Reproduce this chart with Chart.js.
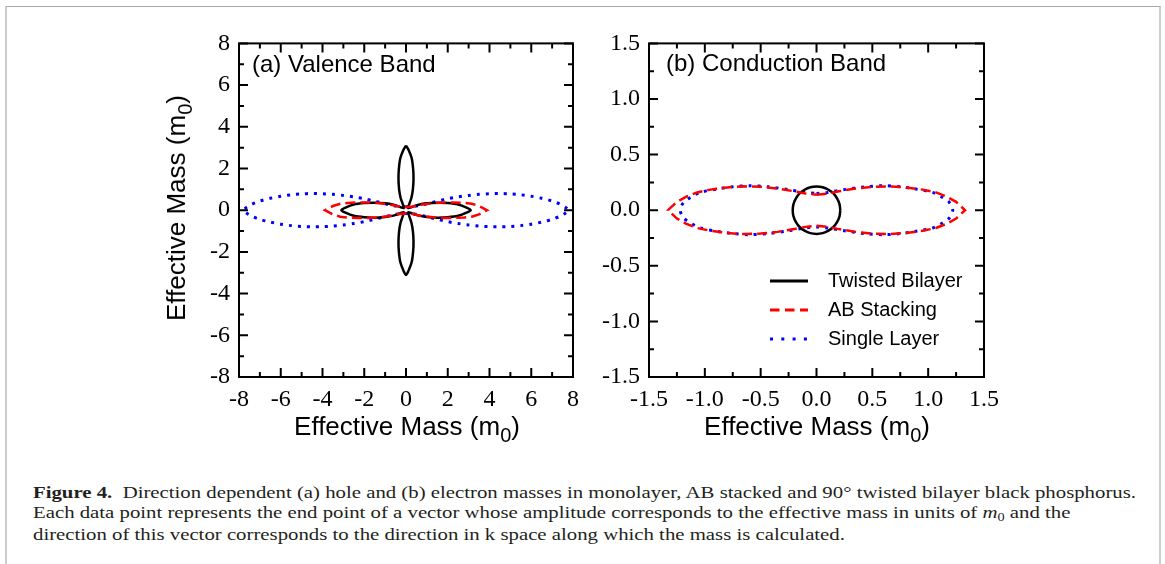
<!DOCTYPE html>
<html>
<head>
<meta charset="utf-8">
<script src="https://cdn.jsdelivr.net/npm/chart.js@4.4.1/dist/chart.umd.min.js"></script>
<style>
  html, body { margin: 0; padding: 0; background: #fff; }
  #page { position: relative; width: 1165px; height: 564px; overflow: hidden; background: #fff; }
  #frame { position: absolute; left: 5px; top: 6px; width: 1156px; height: 640px; box-sizing: border-box;
           border-top: 1px solid #a6a6a6; border-left: 2px solid #cdcdcd; border-right: 2px solid #cdcdcd; }
  canvas { position: absolute; top: 20px; }
  #cvA { left: 150px; }
  #cvB { left: 570px; }
  .sans { position: absolute; font-family: "Liberation Sans", Arial, sans-serif; color: #000; white-space: nowrap; }
  .panel { font-size: 24px; line-height: 24px; }
  .axt { font-size: 26px; line-height: 26px; }
  .sub0 { font-size: 20px; position: relative; top: 7px; }
  .leg { font-size: 20px; line-height: 20px; left: 828px; }
  #legLines { position: absolute; left: 768px; top: 270px; }
  #caption { position: absolute; left: 33px; top: 482px; font-family: "Liberation Serif", serif; font-size: 17.5px;
             line-height: 20px; color: #231f20; white-space: nowrap; transform-origin: 0 0; }
  #caption sub { font-size: 12px; vertical-align: baseline; position: relative; top: 3px; }
</style>
</head>
<body>
<div id="page">
  <div id="frame"></div>
  <canvas id="cvA" width="440" height="400"></canvas>
  <canvas id="cvB" width="440" height="400"></canvas>

  <div class="sans panel" style="left:252px; top:52px;">(a) Valence Band</div>
  <div class="sans panel" style="left:666px; top:51px;">(b) Conduction Band</div>

  <div class="sans axt" style="left:407px; top:413px; transform:translateX(-50%);">Effective Mass (m<span class="sub0">0</span>)</div>
  <div class="sans axt" style="left:817px; top:413px; transform:translateX(-50%);">Effective Mass (m<span class="sub0">0</span>)</div>
  <div class="sans axt" style="left:177px; top:208px; transform:translate(-50%,-50%) rotate(-90deg);">Effective Mass (m<span class="sub0">0</span>)</div>

  <svg id="legLines" width="44" height="80">
    <line x1="2" y1="11" x2="40" y2="11" stroke="#000" stroke-width="3"/>
    <line x1="2" y1="40" x2="40" y2="40" stroke="#ff0000" stroke-width="3" stroke-dasharray="9.5 5.5"/>
    <line x1="2" y1="69" x2="40" y2="69" stroke="#0000ff" stroke-width="3" stroke-dasharray="3 8.3"/>
  </svg>
  <div class="sans leg" style="top:270px;">Twisted Bilayer</div>
  <div class="sans leg" style="top:299px;">AB Stacking</div>
  <div class="sans leg" style="top:328px;">Single Layer</div>

  <div id="caption">
    <div><span id="capLine1"><b>Figure 4.</b>&nbsp; Direction dependent (a) hole and (b) electron masses in monolayer, AB stacked and 90° twisted bilayer black phosphorus.</span></div>
    <div>Each data point represents the end point of a vector whose amplitude corresponds to the effective mass in units of <i>m</i><sub>0</sub> and the</div>
    <div>direction of this vector corresponds to the direction in k space along which the mass is calculated.</div>
  </div>
</div>

<script>
const seriesNames = ['Twisted Bilayer', 'AB Stacking', 'Single Layer'];
const seriesColors = ['#000000', '#ff0000', '#0000ff'];

const valenceTicks = [-8, -6, -4, -2, 0, 2, 4, 6, 8];
const valenceMinorTicks = [-7, -5, -3, -1, 1, 3, 5, 7];
const conductionTicks = [-1.5, -1.0, -0.5, 0.0, 0.5, 1.0, 1.5];
const conductionMinorTicks = [-1.25, -0.75, -0.25, 0.25, 0.75, 1.25];

// (a) valence band, end points of the mass vectors [x, y] in m0
const valenceTwisted = [
  [0, 3.1], [0.12, 2.9], [0.27, 2.5], [0.34, 2.0], [0.36, 1.5], [0.33, 1.0], [0.26, 0.6], [0.16, 0.3], [0.1, 0.1],
  [0.3, 0.16], [0.6, 0.26], [1.0, 0.33], [1.5, 0.36], [2.0, 0.34], [2.5, 0.27], [2.9, 0.12], [3.1, 0],
  [2.9, -0.12], [2.5, -0.27], [2.0, -0.34], [1.5, -0.36], [1.0, -0.33], [0.6, -0.26], [0.3, -0.16], [0.1, -0.1],
  [0.16, -0.3], [0.26, -0.6], [0.33, -1.0], [0.36, -1.5], [0.34, -2.0], [0.27, -2.5], [0.12, -2.9], [0, -3.1],
  [-0.12, -2.9], [-0.27, -2.5], [-0.34, -2.0], [-0.36, -1.5], [-0.33, -1.0], [-0.26, -0.6], [-0.16, -0.3], [-0.1, -0.1],
  [-0.3, -0.16], [-0.6, -0.26], [-1.0, -0.33], [-1.5, -0.36], [-2.0, -0.34], [-2.5, -0.27], [-2.9, -0.12], [-3.1, 0],
  [-2.9, 0.12], [-2.5, 0.27], [-2.0, 0.34], [-1.5, 0.36], [-1.0, 0.33], [-0.6, 0.26], [-0.3, 0.16], [-0.1, 0.1],
  [-0.16, 0.3], [-0.26, 0.6], [-0.33, 1.0], [-0.36, 1.5], [-0.34, 2.0], [-0.27, 2.5], [-0.12, 2.9], [0, 3.1]
];
const valenceAB = [
  [0, 0.15], [0.3, 0.18], [0.6, 0.24], [0.9, 0.29], [1.3, 0.34], [1.8, 0.37], [2.3, 0.37], [2.8, 0.35], [3.15, 0.31], [3.5, 0.2], [3.88, 0],
  [3.5, -0.2], [3.15, -0.31], [2.8, -0.35], [2.3, -0.37], [1.8, -0.37], [1.3, -0.34], [0.9, -0.29], [0.6, -0.24], [0.3, -0.18], [0, -0.15],
  [-0.3, -0.18], [-0.6, -0.24], [-0.9, -0.29], [-1.3, -0.34], [-1.8, -0.37], [-2.3, -0.37], [-2.8, -0.35], [-3.15, -0.31], [-3.5, -0.2], [-3.88, 0],
  [-3.5, 0.2], [-3.15, 0.31], [-2.8, 0.35], [-2.3, 0.37], [-1.8, 0.37], [-1.3, 0.34], [-0.9, 0.29], [-0.6, 0.24], [-0.3, 0.18], [0, 0.15]
];
const valenceSingle = [
  [0, 0.16], [0.4, 0.18], [0.8, 0.26], [1.2, 0.36], [1.6, 0.46], [2.0, 0.55], [2.5, 0.64], [3.0, 0.71], [3.5, 0.76], [4.0, 0.79],
  [4.5, 0.8], [5.0, 0.78], [5.5, 0.74], [6.0, 0.67], [6.5, 0.57], [7.0, 0.44], [7.4, 0.28], [7.65, 0.13], [7.8, 0],
  [7.65, -0.13], [7.4, -0.28], [7.0, -0.44], [6.5, -0.57], [6.0, -0.67], [5.5, -0.74], [5.0, -0.78], [4.5, -0.8],
  [4.0, -0.79], [3.5, -0.76], [3.0, -0.71], [2.5, -0.64], [2.0, -0.55], [1.6, -0.46], [1.2, -0.36], [0.8, -0.26], [0.4, -0.18], [0, -0.16],
  [-0.4, -0.18], [-0.8, -0.26], [-1.2, -0.36], [-1.6, -0.46], [-2.0, -0.55], [-2.5, -0.64], [-3.0, -0.71], [-3.5, -0.76], [-4.0, -0.79],
  [-4.5, -0.8], [-5.0, -0.78], [-5.5, -0.74], [-6.0, -0.67], [-6.5, -0.57], [-7.0, -0.44], [-7.4, -0.28], [-7.65, -0.13], [-7.8, 0],
  [-7.65, 0.13], [-7.4, 0.28], [-7.0, 0.44], [-6.5, 0.57], [-6.0, 0.67], [-5.5, 0.74], [-5.0, 0.78], [-4.5, 0.8],
  [-4.0, 0.79], [-3.5, 0.76], [-3.0, 0.71], [-2.5, 0.64], [-2.0, 0.55], [-1.6, 0.46], [-1.2, 0.36], [-0.8, 0.26], [-0.4, 0.18], [0, 0.16]
];

// (b) conduction band
const conductionTwisted = [
  [0.213, 0], [0.206, 0.055], [0.184, 0.107], [0.151, 0.151], [0.107, 0.184], [0.055, 0.206],
  [0, 0.213], [-0.055, 0.206], [-0.107, 0.184], [-0.151, 0.151], [-0.184, 0.107], [-0.206, 0.055],
  [-0.213, 0], [-0.206, -0.055], [-0.184, -0.107], [-0.151, -0.151], [-0.107, -0.184], [-0.055, -0.206],
  [0, -0.213], [0.055, -0.206], [0.107, -0.184], [0.151, -0.151], [0.184, -0.107], [0.206, -0.055], [0.213, 0]
];
const conductionAB = [
  [0, 0.14], [0.1, 0.15], [0.2, 0.17], [0.35, 0.195], [0.5, 0.21], [0.65, 0.215], [0.8, 0.205], [0.95, 0.185], [1.07, 0.16], [1.17, 0.12], [1.25, 0.075], [1.33, 0],
  [1.25, -0.075], [1.17, -0.12], [1.07, -0.16], [0.95, -0.185], [0.8, -0.205], [0.65, -0.215], [0.5, -0.21], [0.35, -0.195], [0.2, -0.17], [0.1, -0.15], [0, -0.14],
  [-0.1, -0.15], [-0.2, -0.17], [-0.35, -0.195], [-0.5, -0.21], [-0.65, -0.215], [-0.8, -0.205], [-0.95, -0.185], [-1.07, -0.16], [-1.17, -0.12], [-1.25, -0.075], [-1.33, 0],
  [-1.25, 0.075], [-1.17, 0.12], [-1.07, 0.16], [-0.95, 0.185], [-0.8, 0.205], [-0.65, 0.215], [-0.5, 0.21], [-0.35, 0.195], [-0.2, 0.17], [-0.1, 0.15], [0, 0.14]
];
const conductionSingle = [
  [0, 0.15], [0.1, 0.16], [0.25, 0.185], [0.43, 0.21], [0.6, 0.22], [0.75, 0.21], [0.89, 0.19], [1.04, 0.16], [1.12, 0.12], [1.19, 0.07], [1.22, 0],
  [1.19, -0.07], [1.12, -0.12], [1.04, -0.16], [0.89, -0.19], [0.75, -0.21], [0.6, -0.22], [0.43, -0.21], [0.25, -0.185], [0.1, -0.16], [0, -0.15],
  [-0.1, -0.16], [-0.25, -0.185], [-0.43, -0.21], [-0.6, -0.22], [-0.75, -0.21], [-0.89, -0.19], [-1.04, -0.16], [-1.12, -0.12], [-1.19, -0.07], [-1.22, 0],
  [-1.19, 0.07], [-1.12, 0.12], [-1.04, 0.16], [-0.89, 0.19], [-0.75, 0.21], [-0.6, 0.22], [-0.43, 0.21], [-0.25, 0.185], [-0.1, 0.16], [0, 0.15]
];

// solid / dashed / dotted like the original
const lineStyles = [
  { borderWidth: 2.5, borderDash: [], tension: 0.3, order: 1 },
  { borderWidth: 2.5, borderDash: [10, 5], tension: 0, order: 0 },
  { borderWidth: 3, borderDash: [3, 6], tension: 0.3, order: 2 }
];

Chart.defaults.font.family = '"Liberation Serif", "Times New Roman", serif';
Chart.defaults.color = '#000';

// box around the plot + inward ticks on all four sides
const frameTicks = {
  id: 'frameTicks',
  afterDatasetsDraw(chart, args, opts) {
    const { ctx, chartArea: a, scales: { x, y } } = chart;
    ctx.save();
    ctx.strokeStyle = '#000';
    ctx.lineWidth = 2;
    ctx.beginPath();
    [[opts.major, 9], [opts.minor, 5]].forEach(([vals, len]) => {
      vals.forEach(v => {
        const px = x.getPixelForValue(v), py = y.getPixelForValue(v);
        ctx.moveTo(px, a.bottom); ctx.lineTo(px, a.bottom - len);
        ctx.moveTo(px, a.top); ctx.lineTo(px, a.top + len);
        ctx.moveTo(a.left, py); ctx.lineTo(a.left + len, py);
        ctx.moveTo(a.right, py); ctx.lineTo(a.right - len, py);
      });
    });
    ctx.stroke();
    ctx.strokeRect(a.left, a.top, a.right - a.left, a.bottom - a.top);
    ctx.restore();
  }
};

function makePanel(id, curves, major, minor, fmt, yWidth, padRight) {
  const datasets = curves.map((pts, i) => ({
    label: seriesNames[i],
    data: pts.map(p => ({ x: p[0], y: p[1] })),
    showLine: true,
    pointRadius: 0,
    borderColor: seriesColors[i],
    backgroundColor: seriesColors[i],
    fill: false,
    ...lineStyles[i]
  }));
  const axis = (isX) => ({
    type: 'linear',
    min: major[0],
    max: major[major.length - 1],
    afterBuildTicks: s => { s.ticks = major.map(v => ({ value: v })); },
    afterFit: s => { if (isX) s.height = 43; else s.width = yWidth; },
    grid: { display: false, drawTicks: false },
    border: { display: false },
    ticks: { font: { size: 24 }, color: '#000', padding: isX ? 8 : 9, autoSkip: false, maxRotation: 0, callback: fmt }
  });
  return new Chart(document.getElementById(id), {
    type: 'scatter',
    data: { datasets },
    options: {
      responsive: false,
      animation: false,
      layout: { padding: { top: 23, right: padRight, left: 0, bottom: 0 } },
      scales: { x: axis(true), y: axis(false) },
      plugins: {
        legend: { display: false },
        tooltip: { enabled: false },
        frameTicks: { major, minor }
      }
    },
    plugins: [frameTicks]
  });
}

makePanel('cvA', [valenceTwisted, valenceAB, valenceSingle], valenceTicks, valenceMinorTicks, v => String(v), 89, 17);
makePanel('cvB', [conductionTwisted, conductionAB, conductionSingle], conductionTicks, conductionMinorTicks, v => v.toFixed(1), 79, 26);

// the caption font in the paper is condensed; squeeze the serif to the same line length
const cap = document.getElementById('caption');
const w1 = document.getElementById('capLine1').getBoundingClientRect().width;
cap.style.transform = 'scaleX(' + (1103 / w1) + ')';
</script>
</body>
</html>
